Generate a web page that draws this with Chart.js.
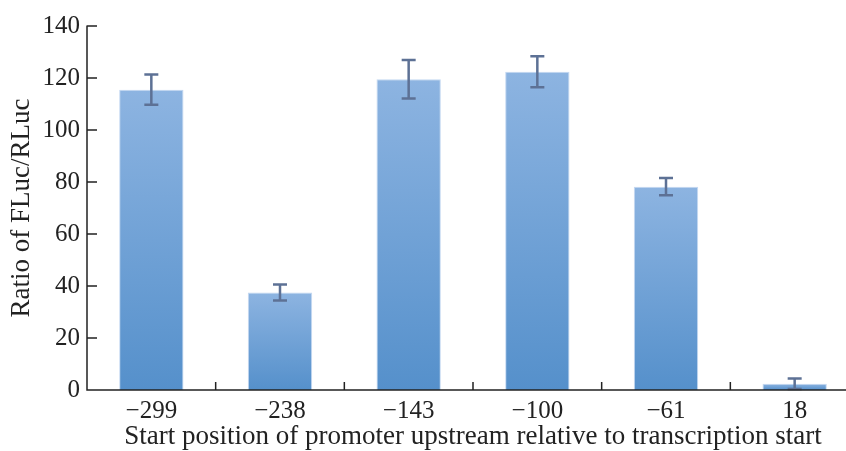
<!DOCTYPE html>
<html>
<head>
<meta charset="utf-8">
<script src="https://cdn.jsdelivr.net/npm/chart.js@4.4.1/dist/chart.umd.min.js"></script>
<style>
  html, body { margin: 0; padding: 0; background: #fff; overflow: hidden; }
  #wrap { width: 860px; height: 451px; }
</style>
</head>
<body>
<div id="wrap"><canvas id="promoterChart" width="860" height="451"></canvas></div>
<script>
// data
const positions = ["\u2212299", "\u2212238", "\u2212143", "\u2212100", "\u221261", "18"];
const ratios = [115.5, 37.5, 119.5, 122.4, 78.2, 2.4];
const errors = [5.8, 3.1, 7.4, 6.0, 3.3, 2.0];
const yTicks = [0, 20, 40, 60, 80, 100, 120, 140];

const serif = "'Liberation Serif', 'Times New Roman', serif";

// vertical gradient per bar: light on top, darker at the base
function barGradient(ctx) {
  const chart = ctx.chart;
  const y = chart.scales.y;
  if (!y || !chart.chartArea) return "#6fa0d6";
  const top = y.getPixelForValue(ctx.raw);
  const base = y.getPixelForValue(0);
  const g = chart.ctx.createLinearGradient(0, top, 0, base);
  g.addColorStop(0, "#8db4e1");
  g.addColorStop(1, "#5590cb");
  return g;
}

// error bars drawn from the bar elements and y scale
const errorBars = {
  id: "errorBars",
  afterDatasetsDraw(chart) {
    const ctx = chart.ctx;
    const y = chart.scales.y;
    const meta = chart.getDatasetMeta(0);
    ctx.save();
    ctx.strokeStyle = "#5d7195";
    ctx.lineWidth = 2.5;
    meta.data.forEach((bar, i) => {
      const hi = y.getPixelForValue(ratios[i] + errors[i]);
      const lo = y.getPixelForValue(Math.max(0, ratios[i] - errors[i]));
      ctx.beginPath();
      ctx.moveTo(bar.x, hi); ctx.lineTo(bar.x, lo);
      ctx.moveTo(bar.x - 7, hi); ctx.lineTo(bar.x + 7, hi);
      ctx.moveTo(bar.x - 7, lo); ctx.lineTo(bar.x + 7, lo);
      ctx.stroke();
    });
    ctx.restore();
  }
};

// axis lines with inward tick marks
const axes = {
  id: "axes",
  afterDraw(chart) {
    const ctx = chart.ctx;
    const { left, right, bottom } = chart.chartArea;
    const y = chart.scales.y;
    ctx.save();
    ctx.strokeStyle = "#222";
    ctx.lineWidth = 1.5;
    ctx.beginPath();
    ctx.moveTo(left, y.getPixelForValue(140) - 0.5);
    ctx.lineTo(left, bottom);
    ctx.lineTo(right, bottom);
    yTicks.forEach(t => {
      if (t === 0) return;
      const py = y.getPixelForValue(t);
      ctx.moveTo(left, py); ctx.lineTo(left + 10, py);
    });
    const step = (right - left) / positions.length;
    for (let i = 1; i < positions.length; i++) {
      const px = left + i * step;
      ctx.moveTo(px, bottom); ctx.lineTo(px, bottom - 8);
    }
    ctx.stroke();
    ctx.restore();
  }
};

new Chart(document.getElementById("promoterChart"), {
  type: "bar",
  data: {
    labels: positions,
    datasets: [{
      data: ratios,
      backgroundColor: barGradient,
      borderColor: "rgba(190,212,240,0.9)",
      borderWidth: { top: 1, left: 1, right: 1, bottom: 0 },
      barPercentage: 0.5,
      categoryPercentage: 1.0
    }]
  },
  options: {
    responsive: false,
    animation: false,
    layout: { padding: { top: 26, left: 0, right: 1, bottom: 0 } },
    plugins: { legend: { display: false }, tooltip: { enabled: false } },
    scales: {
      x: {
        grid: { display: false, drawTicks: false },
        border: { display: false },
        ticks: { color: "#222", padding: 6, font: { family: serif, size: 25 } },
        title: {
          display: true,
          text: "Start position of promoter upstream relative to transcription start",
          color: "#222",
          font: { family: serif, size: 27 },
          padding: { top: 0, bottom: -2 }
        },
        afterFit(s) { s.height = 61; }
      },
      y: {
        min: 0,
        max: 140,
        grid: { display: false, drawTicks: false },
        border: { display: false },
        afterBuildTicks(s) { s.ticks = yTicks.map(v => ({ value: v })); },
        ticks: { color: "#222", padding: 7, font: { family: serif, size: 25 } },
        title: {
          display: true,
          text: "Ratio of FLuc/RLuc",
          color: "#222",
          font: { family: serif, size: 27 },
          padding: { top: 6, bottom: 0 }
        },
        afterFit(s) { s.width = 87; }
      }
    }
  },
  plugins: [errorBars, axes]
});
</script>
</body>
</html>
